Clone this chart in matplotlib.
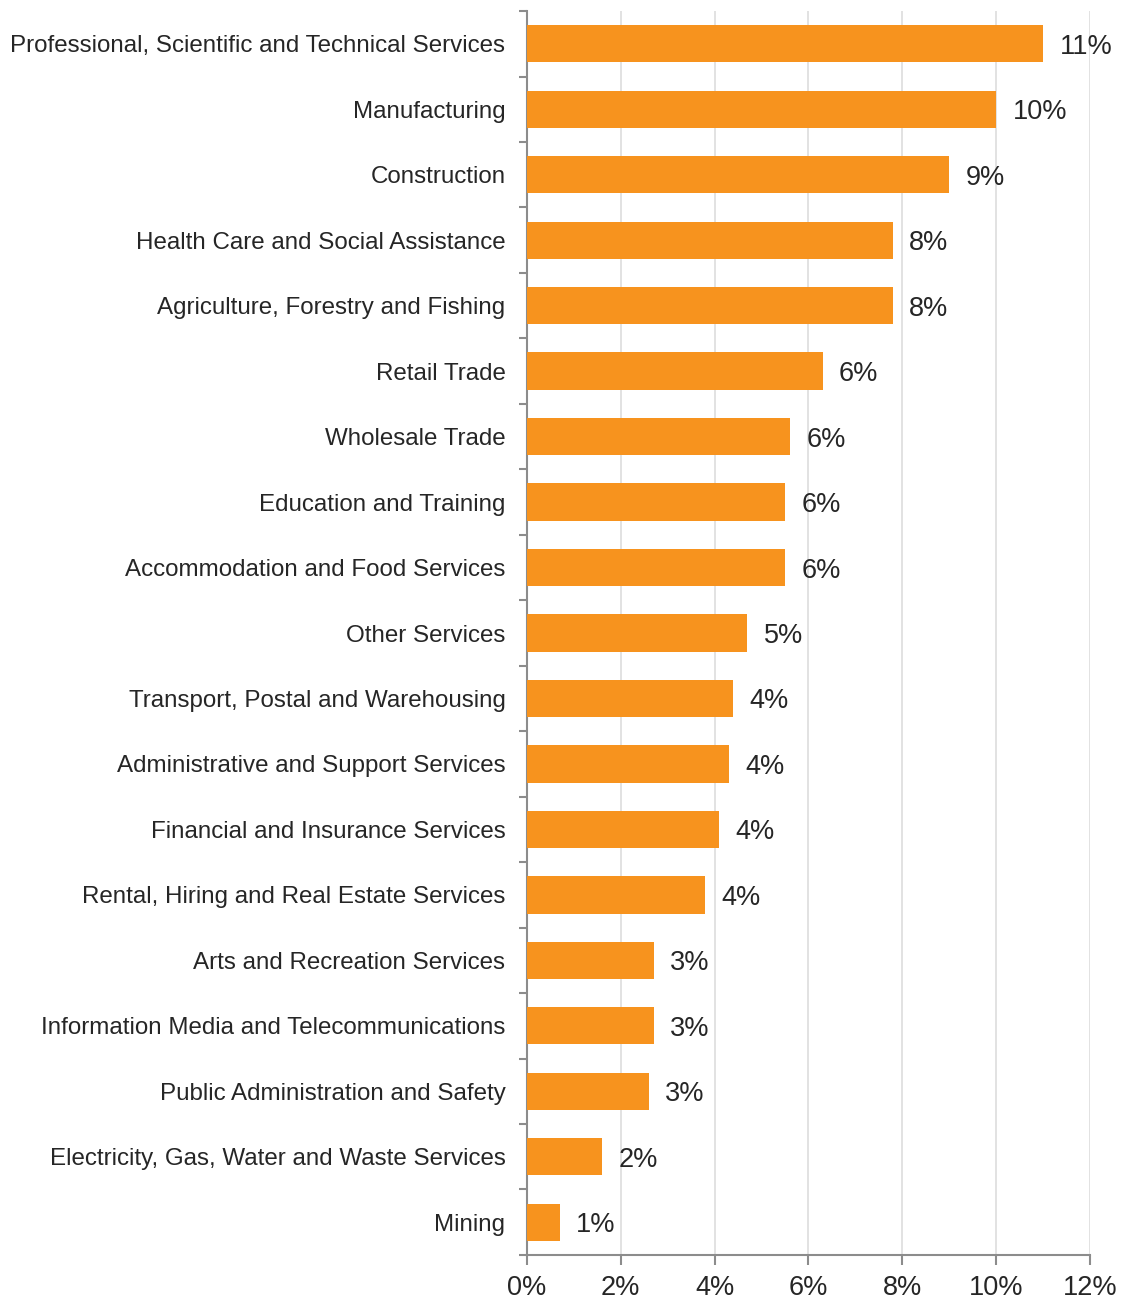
import matplotlib
matplotlib.use("Agg")
import matplotlib.pyplot as plt
import numpy as np

plt.rcParams['font.family'] = ['Liberation Sans', 'DejaVu Sans']

# share of businesses by industry (%)
industries = [
    "Professional, Scientific and Technical Services",
    "Manufacturing",
    "Construction",
    "Health Care and Social Assistance",
    "Agriculture, Forestry and Fishing",
    "Retail Trade",
    "Wholesale Trade",
    "Education and Training",
    "Accommodation and Food Services",
    "Other Services",
    "Transport, Postal and Warehousing",
    "Administrative and Support Services",
    "Financial and Insurance Services",
    "Rental, Hiring and Real Estate Services",
    "Arts and Recreation Services",
    "Information Media and Telecommunications",
    "Public Administration and Safety",
    "Electricity, Gas, Water and Waste Services",
    "Mining",
]
shares = [11.0, 10.0, 9.0, 7.8, 7.8, 6.3, 5.6, 5.5, 5.5, 4.7,
          4.4, 4.3, 4.1, 3.8, 2.7, 2.7, 2.6, 1.6, 0.7]
xticks = [0, 2, 4, 6, 8, 10, 12]

bar_color = "#F7931E"
axis_gray = "#8C8C8C"
text_color = "#262626"

fig = plt.figure(figsize=(11.25, 12.99), dpi=100)
ax = fig.add_axes([0.4684, 0.0339, 0.5005, 0.9576])

y = np.arange(len(industries))
ax.barh(y, shares, height=0.57, color=bar_color, zorder=3)

for yi, v in zip(y, shares):
    ax.text(v + 0.35, yi, f"{v:.0f}%", va="center_baseline", ha="left",
            fontsize=19.5, color=text_color)

ax.set_xlim(0, 12)
ax.set_ylim(len(industries) - 0.5, -0.5)
ax.set_xticks(xticks)
ax.set_xticklabels([f"{t}%" for t in xticks], fontsize=19.5, color=text_color)

# category labels sit between boundary ticks
ax.set_yticks(y)
ax.set_yticklabels(industries, fontsize=17.4, color=text_color)
ax.tick_params(axis="y", which="major", length=0, pad=15.5)
ax.set_yticks(np.arange(len(industries) + 1) - 0.5, minor=True)
ax.tick_params(axis="y", which="minor", length=6, color=axis_gray, width=1.5)
ax.tick_params(axis="x", length=7, color=axis_gray, width=1.5, pad=7.5)

ax.grid(axis="x", color="#DDDDDD", linewidth=1.2, zorder=0)
for side in ("top", "right"):
    ax.spines[side].set_visible(False)
for side in ("left", "bottom"):
    ax.spines[side].set_color(axis_gray)
    ax.spines[side].set_linewidth(1.5)

fig.savefig("out.png", dpi=100)
